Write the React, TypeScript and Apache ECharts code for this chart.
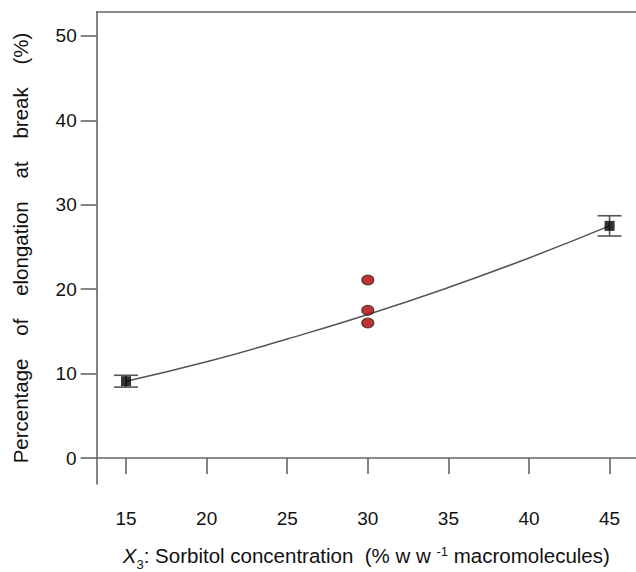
import React, { useEffect, useRef } from "react";
import * as echarts from "echarts";

const xTicks = [15, 20, 25, 30, 35, 40, 45];
const yTicks = [0, 10, 20, 30, 40, 50];

// fitted model curve
const curveX = [15, 20, 25, 30, 35, 40, 45];
const curveY = [9.1, 11.4, 14.1, 17.0, 20.2, 23.7, 27.5];

// factorial points (mean with error bars)
const meanX = [15, 45];
const meanY = [9.1, 27.5];
const errLow = [8.4, 26.3];
const errHigh = [9.8, 28.7];

// center points (replicates)
const centerX = [30, 30, 30];
const centerY = [21.1, 17.5, 16.0];

const AXIS = "#666";
const FONT = "Arial, 'Liberation Sans', sans-serif";

export default function App() {
  const ref = useRef<HTMLDivElement>(null);
  useEffect(() => {
    if (!ref.current) return;
    const chart = echarts.init(ref.current, undefined, { renderer: "svg" });
    const xMin = 13.18;
    const xMax = 46.64;
    const sp = "    ";
    chart.setOption({
      animation: false,
      backgroundColor: "#fff",
      grid: {
        left: 96.7,
        right: 0,
        top: 12,
        bottom: 88,
        containLabel: false,
        outerBoundsMode: "none",
      },
      xAxis: [
        {
          type: "value",
          min: xMin,
          max: xMax,
          position: "bottom",
          splitLine: { show: false },
          axisLine: { show: true, lineStyle: { color: AXIS, width: 1.6 } },
          axisTick: {
            show: true,
            inside: false,
            length: 16,
            customValues: xTicks,
            lineStyle: { color: AXIS, width: 1.6 },
          },
          axisLabel: {
            customValues: xTicks,
            margin: 25,
            color: "#111",
            fontSize: 19,
            fontFamily: FONT,
          },
          name: "{i|X}{sub|3}{n|: Sorbitol concentration  (% w w }{sup|-1}{n| macromolecules)}",
          nameLocation: "middle",
          nameGap: 59,
          nameTextStyle: {
            color: "#111",
            fontFamily: FONT,
            rich: {
              i: { fontStyle: "italic", fontSize: 20.5, fontFamily: FONT, color: "#111", lineHeight: 24, verticalAlign: "middle" },
              n: { fontSize: 20.5, fontFamily: FONT, color: "#111", lineHeight: 24, verticalAlign: "middle" },
              sub: { fontSize: 13, fontFamily: FONT, color: "#111", lineHeight: 24, verticalAlign: "bottom", padding: [0, 0, -4, 0] },
              sup: { fontSize: 13, fontFamily: FONT, color: "#111", lineHeight: 24, verticalAlign: "top", padding: [2, 0, 0, 0] },
            },
          },
        },
        {
          type: "value",
          min: xMin,
          max: xMax,
          position: "top",
          splitLine: { show: false },
          axisLine: { show: true, lineStyle: { color: AXIS, width: 1.6 } },
          axisTick: { show: false },
          axisLabel: { show: false },
        },
      ],
      yAxis: {
        type: "value",
        min: -3.08,
        max: 52.84,
        splitLine: { show: false },
        axisLine: { show: true, lineStyle: { color: AXIS, width: 1.6 } },
        axisTick: {
          show: true,
          length: 16,
          customValues: yTicks,
          lineStyle: { color: AXIS, width: 1.6 },
        },
        axisLabel: {
          customValues: yTicks,
          margin: 20,
          color: "#111",
          fontSize: 19,
          fontFamily: FONT,
        },
        name: `Percentage${sp}of${sp}elongation${sp}at${sp}break${sp}(%)`,
        nameLocation: "middle",
        nameGap: 66,
        nameRotate: 90,
        nameTextStyle: { color: "#111", fontSize: 20.5, fontFamily: FONT },
      },
      series: [
        {
          type: "line",
          data: curveX.map((x, i) => [x, curveY[i]]),
          smooth: true,
          showSymbol: false,
          symbol: "none",
          lineStyle: { color: "#555", width: 1.5 },
          z: 2,
        },
        {
          type: "custom",
          data: meanX.map((x, i) => [x, errLow[i], errHigh[i]]),
          renderItem: (params: any, api: any) => {
            const lo = api.coord([api.value(0), api.value(1)]);
            const hi = api.coord([api.value(0), api.value(2)]);
            const half = 12;
            const style = { stroke: "#555", lineWidth: 1.6 };
            return {
              type: "group",
              children: [
                { type: "line", shape: { x1: lo[0], y1: lo[1], x2: hi[0], y2: hi[1] }, style },
                { type: "line", shape: { x1: lo[0] - half, y1: lo[1], x2: lo[0] + half, y2: lo[1] }, style },
                { type: "line", shape: { x1: hi[0] - half, y1: hi[1], x2: hi[0] + half, y2: hi[1] }, style },
              ],
            };
          },
          z: 3,
        },
        {
          type: "scatter",
          data: meanX.map((x, i) => [x, meanY[i]]),
          symbol: "rect",
          symbolSize: 10,
          itemStyle: { color: "#000" },
          z: 4,
        },
        {
          type: "scatter",
          data: centerX.map((x, i) => [x, centerY[i]]),
          symbol: "circle",
          symbolSize: [12, 10],
          itemStyle: { color: "#b00000", borderColor: "#222", borderWidth: 1 },
          z: 4,
        },
      ],
    });
    return () => chart.dispose();
  }, []);
  return (
    <div
      ref={ref}
      style={{ position: "absolute", left: 0, top: 0, width: 636, height: 572 }}
    />
  );
}
